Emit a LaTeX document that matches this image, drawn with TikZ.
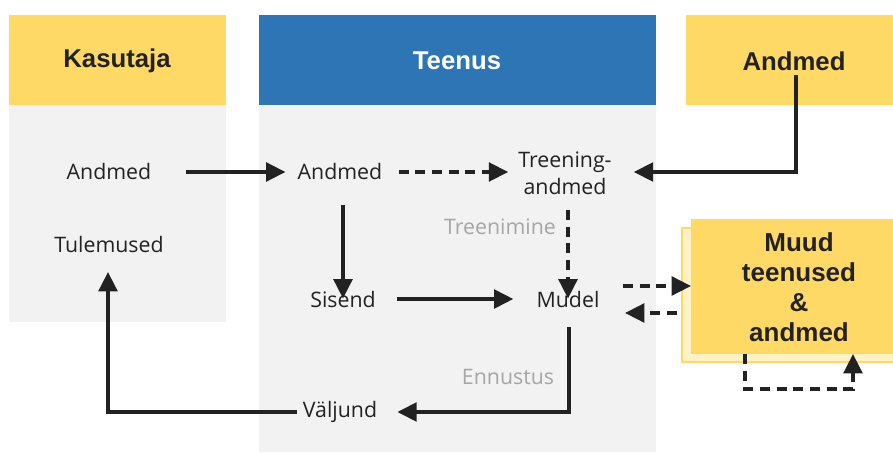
\documentclass[tikz,border=0pt]{standalone}
\usepackage{fontspec}
\setmainfont{Liberation Sans}
\newfontfamily\labelfont{Open Sans}
\usetikzlibrary{arrows.meta}
\definecolor{hdryellow}{HTML}{FFD966}
\definecolor{paleyellow}{HTML}{FFF2C6}
\definecolor{hdrblue}{HTML}{2E75B6}
\definecolor{panel}{HTML}{F2F2F2}
\definecolor{ink}{HTML}{222222}
\definecolor{mute}{HTML}{A6A6A6}
\begin{document}
\begin{tikzpicture}[x=0.75pt,y=-0.75pt,
  header/.style={font=\bfseries\fontsize{19.3}{22}\selectfont, text=ink},
  item/.style={font=\labelfont\fontsize{16}{20}\selectfont, text=ink, align=center, inner sep=0pt},
  phase/.style={font=\labelfont\fontsize{16}{20}\selectfont, text=mute, inner sep=0pt},
  arr/.style={draw=ink, line width=2.6pt, -{Triangle[length=14.5pt,width=14pt]}},
  darr/.style={arr, dash pattern=on 7.5pt off 5pt}]
\useasboundingbox (0,0) rectangle (893,453);

% column panels and headers
\fill[panel] (9,105) rectangle (226,322);
\fill[panel] (259,105) rectangle (656,452);
\fill[hdryellow] (9,15) rectangle (226,105);
\fill[hdrblue] (259,15) rectangle (656,105);
\fill[hdryellow] (686,15) rectangle (893,105);
\node[header] (hK) at (117,61) {Kasutaja};
\node[header, text=white] (hT) at (457,61) {Teenus};
\node[header] (hA) at (794,61) {Andmed};

% external services box with its shadow copy
\filldraw[fill=paleyellow, draw=hdryellow, line width=0.8pt] (682,228) rectangle (900,362);
\fill[hdryellow] (691,219) rectangle (900,354);
\node[font=\bfseries\fontsize{19.5}{22.5}\selectfont, text=ink, align=center, inner sep=0pt]
  (muud) at (799,287) {Muud\\teenused\\\&\\andmed};
\coordinate (muudW) at (691,286);
\coordinate (muudB) at (745,354);
\coordinate (muudB2) at (853,354);

% user column
\node[item] (uAnd) at (109,172) {Andmed};
\node[item] (uTul) at (109,244) {Tulemused};

% service column
\node[item] (sAnd) at (340,172) {Andmed};
\node[item] (sTre) at (565,173) {Treening-\\andmed};
\node[item] (sSis) at (343,299) {Sisend};
\node[item] (sMud) at (568,299) {Mudel};
\node[item] (sVal) at (340,412) {Väljund};
\node[phase] (pTre) at (500,227) {Treenimine};
\node[phase] (pEnn) at (508,377) {Ennustus};

% connectors
\draw[arr] ([xshift=34pt*0.75]uAnd.east) -- ([xshift=-12pt*0.75]sAnd.west);
\draw[darr] ([xshift=16pt*0.75]sAnd.east) -- ([xshift=-10pt*0.75]sTre.west |- sAnd.east);
\draw[arr] (hA.south -| 796,0) |- ([xshift=22pt*0.75]sTre.east |- sAnd.east);
\draw[darr] (568,210) -- ([yshift=-8pt*0.75]sMud.north);
\draw[arr] (343,205) -- ([yshift=-8pt*0.75]sSis.north);
\draw[arr] ([xshift=21pt*0.75]sSis.east) -- ([xshift=-23pt*0.75]sMud.west);
\draw[darr] (623,286) -- (muudW);
\draw[darr] (677,313) -- (625,313);
\draw[arr] (569,327) |- ([xshift=20pt*0.75]sVal.east);
\draw[arr] ([xshift=-6pt*0.75]sVal.west) -| (108,272);
\draw[darr] (muudB) -- (745,389) -| (muudB2);
\end{tikzpicture}
\end{document}
